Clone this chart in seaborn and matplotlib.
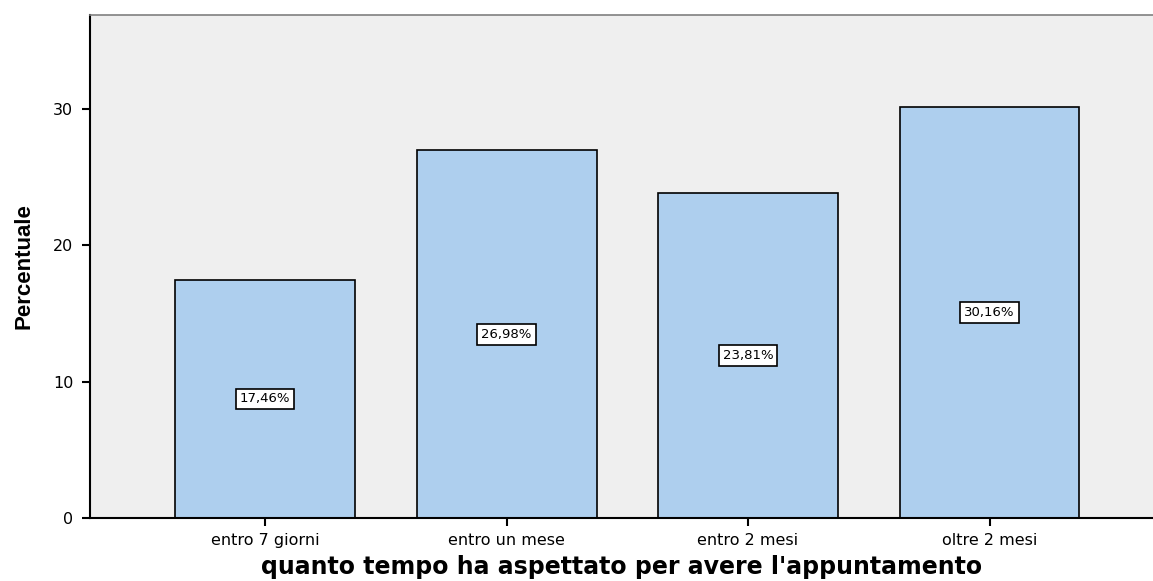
import pandas as pd
import matplotlib
matplotlib.use("Agg")
import matplotlib.pyplot as plt
import seaborn as sns

categories = ["entro 7 giorni", "entro un mese", "entro 2 mesi", "oltre 2 mesi"]
percent = [17.46, 26.98, 23.81, 30.16]
bar_labels = ["17,46%", "26,98%", "23,81%", "30,16%"]

df = pd.DataFrame({"categoria": categories, "percentuale": percent})

sns.set_style("white")
plt.rcParams["font.family"] = ["DejaVu Sans"]
plt.rcParams["text.color"] = "black"
plt.rcParams["axes.labelcolor"] = "black"
plt.rcParams["xtick.color"] = "black"
plt.rcParams["ytick.color"] = "black"

fig = plt.figure(figsize=(11.53, 5.81), dpi=100)
ax = fig.add_axes([90 / 1153, 1 - 518 / 581, 1063 / 1153, 503 / 581])
ax.set_facecolor("#efefef")

sns.barplot(data=df, x="categoria", y="percentuale", color="#aecfee",
            saturation=1, width=0.745, edgecolor="black", linewidth=1.2, ax=ax)

for i, (v, lab) in enumerate(zip(percent, bar_labels)):
    ax.text(i, v / 2, lab, ha="center", va="center", fontsize=9.5,
            bbox=dict(boxstyle="square,pad=0.3", fc="white", ec="black", lw=1.2))

ax.set_xlim(-0.725, 3.677)
ax.set_ylim(0, 36.9)
ax.set_yticks([0, 10, 20, 30])

for s in ["left", "bottom"]:
    ax.spines[s].set_color("black")
    ax.spines[s].set_linewidth(1.5)
ax.spines["top"].set_color("#808080")
ax.spines["top"].set_linewidth(1.2)
ax.spines["right"].set_visible(False)

ax.tick_params(axis="x", direction="out", length=6, width=1.5, labelsize=11.5,
               pad=5, bottom=True)
ax.tick_params(axis="y", direction="out", length=6, width=1.5, labelsize=11.5,
               pad=6, left=True)

ax.set_xlabel("quanto tempo ha aspettato per avere l'appuntamento",
              fontsize=17, fontweight="bold", labelpad=5)
ax.set_ylabel("Percentuale", fontsize=16, fontweight="bold",
              family=["Liberation Sans Narrow", "Liberation Sans"], labelpad=13)

fig.savefig("out.png", dpi=100)
